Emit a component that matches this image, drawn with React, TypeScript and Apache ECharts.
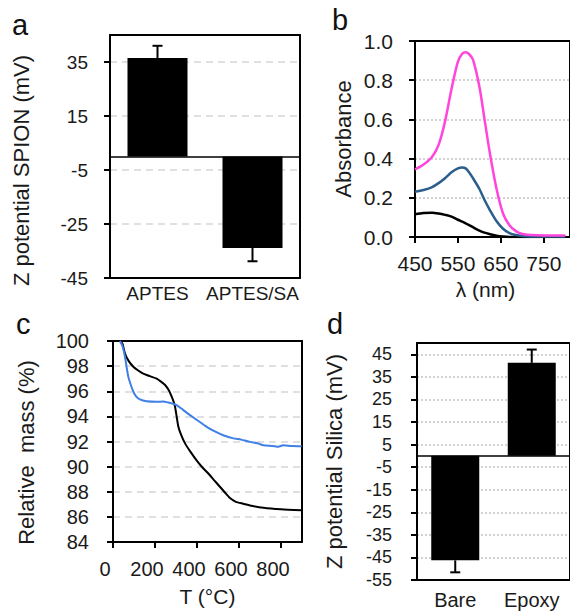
import React, { useEffect, useRef } from 'react';
import * as echarts from 'echarts';

// Panel a: zeta potential of SPIONs
const spionCats = ['APTES', 'APTES/SA'];
const spionZeta = [36.5, -33.9];
const spionErr = [4.5, 4.9];

// Panel b: absorbance spectra
const wavelength = [450, 470, 490, 505, 520, 535, 550, 560, 568, 575, 585, 600, 612, 625, 640, 655, 670, 685, 700, 720, 750, 800];
const absPink = [0.345, 0.37, 0.41, 0.47, 0.59, 0.755, 0.895, 0.935, 0.942, 0.935, 0.905, 0.767, 0.6, 0.42, 0.245, 0.12, 0.06, 0.03, 0.015, 0.01, 0.008, 0.008];
const absBlue = [0.231, 0.24, 0.255, 0.275, 0.3, 0.33, 0.35, 0.354, 0.35, 0.333, 0.3, 0.245, 0.189, 0.135, 0.08, 0.042, 0.02, 0.01, 0.005, 0.003, 0.002, 0.002];
const absBlack = [0.116, 0.122, 0.124, 0.12, 0.113, 0.104, 0.088, 0.078, 0.07, 0.062, 0.05, 0.033, 0.022, 0.014, 0.006, 0.002, 0, 0, 0, 0, 0, 0];

// Panel c: TGA curves
const tgaBlackT = [33, 45, 57, 75, 97, 120, 144, 175, 208, 230, 248, 265, 279, 288, 295, 303, 311, 325, 343, 370, 398, 425, 454, 480, 509, 535, 557, 585, 620, 660, 716, 800, 898];
const tgaBlackM = [100, 99.8, 99.0, 98.4, 97.95, 97.65, 97.4, 97.2, 97.0, 96.75, 96.5, 96.1, 95.6, 95.2, 94.8, 94.0, 93.2, 92.5, 91.85, 91.15, 90.5, 89.95, 89.45, 88.95, 88.4, 87.9, 87.5, 87.2, 87.05, 86.88, 86.72, 86.6, 86.52];
const tgaBlueT = [33, 45, 57, 65, 73, 85, 97, 110, 128, 160, 208, 240, 263, 285, 303, 335, 367, 405, 446, 485, 525, 573, 610, 652, 690, 716, 760, 787, 810, 850, 898];
const tgaBlueM = [100, 99.6, 98.75, 97.9, 97.15, 96.5, 95.96, 95.6, 95.35, 95.2, 95.16, 95.18, 95.1, 95.0, 94.9, 94.5, 94.1, 93.65, 93.17, 92.8, 92.5, 92.25, 92.15, 91.97, 91.85, 91.7, 91.65, 91.58, 91.7, 91.65, 91.63];

// Panel d: zeta potential of silica
const silicaCats = ['Bare', 'Epoxy'];
const silicaZeta = [-46.3, 41.2];
const silicaErr = [5.3, 5.9];

const FONT = 'Liberation Sans, Arial, Helvetica, sans-serif';
const TXT = '#1a1a1a';

const dashed = { show: true, lineStyle: { color: '#d6d6d6', width: 1.5, type: [7, 5] as any } };
const dotted = { show: true, lineStyle: { color: '#c4c4c4', width: 1.5, type: [2, 2] as any } };

function errorSeries(xi: number, yi: number, vals: number[], errs: number[]) {
  return {
    type: 'custom',
    xAxisIndex: xi,
    yAxisIndex: yi,
    z: 5,
    data: vals.map((v, i) => [i, v, v + Math.sign(v) * errs[i]]),
    encode: { x: 0, y: [1, 2] },
    renderItem: (params: any, api: any) => {
      const x = api.value(0);
      const p0 = api.coord([x, api.value(1)]);
      const p1 = api.coord([x, api.value(2)]);
      const cap = 5;
      const st = { stroke: '#000', lineWidth: 2 };
      return {
        type: 'group',
        children: [
          { type: 'line', shape: { x1: p0[0], y1: p0[1], x2: p1[0], y2: p1[1] }, style: st },
          { type: 'line', shape: { x1: p1[0] - cap, y1: p1[1], x2: p1[0] + cap, y2: p1[1] }, style: st },
        ],
      };
    },
  };
}

const axisLineBlack = { show: true, onZero: false, lineStyle: { color: '#000', width: 2 } };
const tickOut = { show: true, inside: false, length: 6, lineStyle: { color: '#000', width: 2 } };

function frameX(gridIndex: number) {
  return {
    gridIndex, type: 'value', position: 'top',
    axisLine: axisLineBlack, axisTick: { show: false }, axisLabel: { show: false }, splitLine: { show: false },
  };
}
function frameY(gridIndex: number) {
  return {
    gridIndex, type: 'value', position: 'right',
    axisLine: axisLineBlack, axisTick: { show: false }, axisLabel: { show: false }, splitLine: { show: false },
  };
}

function letter(t: string, x: number, y: number) {
  return {
    type: 'text',
    x,
    y,
    z: 10,
    style: { text: t, font: `29px ${FONT}`, fill: '#111', verticalAlign: 'middle', align: 'left' },
  };
}

export default function App() {
  const ref = useRef<HTMLDivElement>(null);
  useEffect(() => {
    if (!ref.current) return;
    const chart = echarts.init(ref.current, undefined, { renderer: 'svg' });
    const option: any = {
      animation: false,
      backgroundColor: '#fff',
      textStyle: { fontFamily: FONT, color: TXT },
      grid: [
        { left: 110, top: 35, width: 190, height: 243 },
        { left: 415, top: 41, width: 160, height: 196 },
        { left: 113, top: 341, width: 189, height: 201 },
        { left: 417, top: 343, width: 155, height: 237 },
      ],
      xAxis: [
        {
          gridIndex: 0, type: 'category', data: spionCats,
          axisLine: axisLineBlack, axisTick: { show: false },
          axisLabel: { interval: 0, margin: 6, fontSize: 19, color: TXT, fontFamily: FONT },
          splitLine: { show: false },
        },
        {
          gridIndex: 1, type: 'value', min: 450, max: 811, interval: 100,
          axisLine: axisLineBlack, axisTick: tickOut,
          axisLabel: { margin: 16, fontSize: 21, color: TXT, fontFamily: FONT, showMaxLabel: false },
          splitLine: { show: false },
          name: 'λ (nm)', nameLocation: 'middle', nameGap: 42,
          nameTextStyle: { fontSize: 21, color: TXT, fontFamily: FONT, padding: [0, 14, 0, 0] },
        },
        {
          gridIndex: 2, type: 'value', min: 0, max: 900, interval: 200,
          axisLine: axisLineBlack, axisTick: tickOut,
          axisLabel: { margin: 17, fontSize: 20, color: TXT, fontFamily: FONT, showMaxLabel: false, padding: [0, 16, 0, 0] },
          splitLine: { show: false },
          name: 'T (°C)', nameLocation: 'middle', nameGap: 44,
          nameTextStyle: { fontSize: 21, color: TXT, fontFamily: FONT },
        },
        {
          gridIndex: 3, type: 'category', data: silicaCats,
          axisLine: axisLineBlack, axisTick: { show: false },
          axisLabel: { interval: 0, margin: 10, fontSize: 20, color: TXT, fontFamily: FONT },
          splitLine: { show: false },
        },
        frameX(0), frameX(1), frameX(2), frameX(3),
      ],
      yAxis: [
        {
          gridIndex: 0, type: 'value', min: -45, max: 45, interval: 20,
          axisLine: axisLineBlack, axisTick: tickOut,
          axisLabel: { margin: 22, fontSize: 19, color: TXT, fontFamily: FONT, showMaxLabel: false },
          splitLine: dashed,
          name: 'Z potential SPION (mV)', nameLocation: 'middle', nameGap: 78, nameRotate: 90,
          nameTextStyle: { fontSize: 22, color: TXT, fontFamily: FONT, padding: [0, 28, 0, 0] },
        },
        {
          gridIndex: 1, type: 'value', min: 0, max: 1, interval: 0.2,
          axisLine: axisLineBlack, axisTick: tickOut,
          axisLabel: { margin: 22, fontSize: 21, color: TXT, fontFamily: FONT, formatter: (v: number) => v.toFixed(1) },
          splitLine: dotted,
          name: 'Absorbance', nameLocation: 'middle', nameGap: 61, nameRotate: 90,
          nameTextStyle: { fontSize: 22, color: TXT, fontFamily: FONT },
        },
        {
          gridIndex: 2, type: 'value', min: 84, max: 100, interval: 2,
          axisLine: axisLineBlack, axisTick: tickOut,
          axisLabel: { margin: 24, fontSize: 20, color: TXT, fontFamily: FONT },
          splitLine: dashed,
          name: 'Relative  mass (%)', nameLocation: 'middle', nameGap: 76, nameRotate: 90,
          nameTextStyle: { fontSize: 22, color: TXT, fontFamily: FONT, padding: [0, 22, 0, 0] },
        },
        {
          gridIndex: 3, type: 'value', min: -55, max: 50, interval: 10,
          axisLine: axisLineBlack, axisTick: tickOut,
          axisLabel: { margin: 25, fontSize: 18, color: TXT, fontFamily: FONT, showMaxLabel: false },
          splitLine: dotted,
          name: 'Z potential Silica (mV)', nameLocation: 'middle', nameGap: 72, nameRotate: 90,
          nameTextStyle: { fontSize: 22, color: TXT, fontFamily: FONT },
        },
        frameY(0), frameY(1), frameY(2), frameY(3),
      ],
      series: [
        {
          type: 'bar', xAxisIndex: 0, yAxisIndex: 0, data: spionZeta, barWidth: 60,
          itemStyle: { color: '#000' },
          markLine: {
            silent: true, symbol: ['none', 'none'], label: { show: false },
            lineStyle: { color: '#000', width: 1.5, type: 'solid' },
            data: [{ yAxis: 0 }],
          },
        },
        errorSeries(0, 0, spionZeta, spionErr),
        {
          type: 'line', xAxisIndex: 1, yAxisIndex: 1, showSymbol: false, smooth: 0.3,
          data: wavelength.map((w, i) => [w, absBlack[i]]),
          lineStyle: { color: '#000', width: 2.5 },
        },
        {
          type: 'line', xAxisIndex: 1, yAxisIndex: 1, showSymbol: false, smooth: 0.3,
          data: wavelength.map((w, i) => [w, absBlue[i]]),
          lineStyle: { color: '#2b5e8c', width: 2.5 },
        },
        {
          type: 'line', xAxisIndex: 1, yAxisIndex: 1, showSymbol: false, smooth: 0.3,
          data: wavelength.map((w, i) => [w, absPink[i]]),
          lineStyle: { color: '#ff45dc', width: 2.5 },
        },
        {
          type: 'line', xAxisIndex: 2, yAxisIndex: 2, showSymbol: false, smooth: 0.2,
          data: tgaBlackT.map((t, i) => [t, tgaBlackM[i]]),
          lineStyle: { color: '#000', width: 2 },
        },
        {
          type: 'line', xAxisIndex: 2, yAxisIndex: 2, showSymbol: false, smooth: 0.2,
          data: tgaBlueT.map((t, i) => [t, tgaBlueM[i]]),
          lineStyle: { color: '#3f7fe6', width: 2 },
        },
        {
          type: 'bar', xAxisIndex: 3, yAxisIndex: 3, data: silicaZeta, barWidth: 48,
          itemStyle: { color: '#000' },
          markLine: {
            silent: true, symbol: ['none', 'none'], label: { show: false },
            lineStyle: { color: '#000', width: 1.5, type: 'solid' },
            data: [{ yAxis: 0 }],
          },
        },
        errorSeries(3, 3, silicaZeta, silicaErr),
      ],
      graphic: [letter('a', 12, 25), letter('b', 332, 20), letter('c', 16, 324), letter('d', 327, 324)],
    };
    chart.setOption(option);
    return () => chart.dispose();
  }, []);
  return <div ref={ref} style={{ position: 'absolute', left: 0, top: 0, width: 570, height: 611 }} />;
}
